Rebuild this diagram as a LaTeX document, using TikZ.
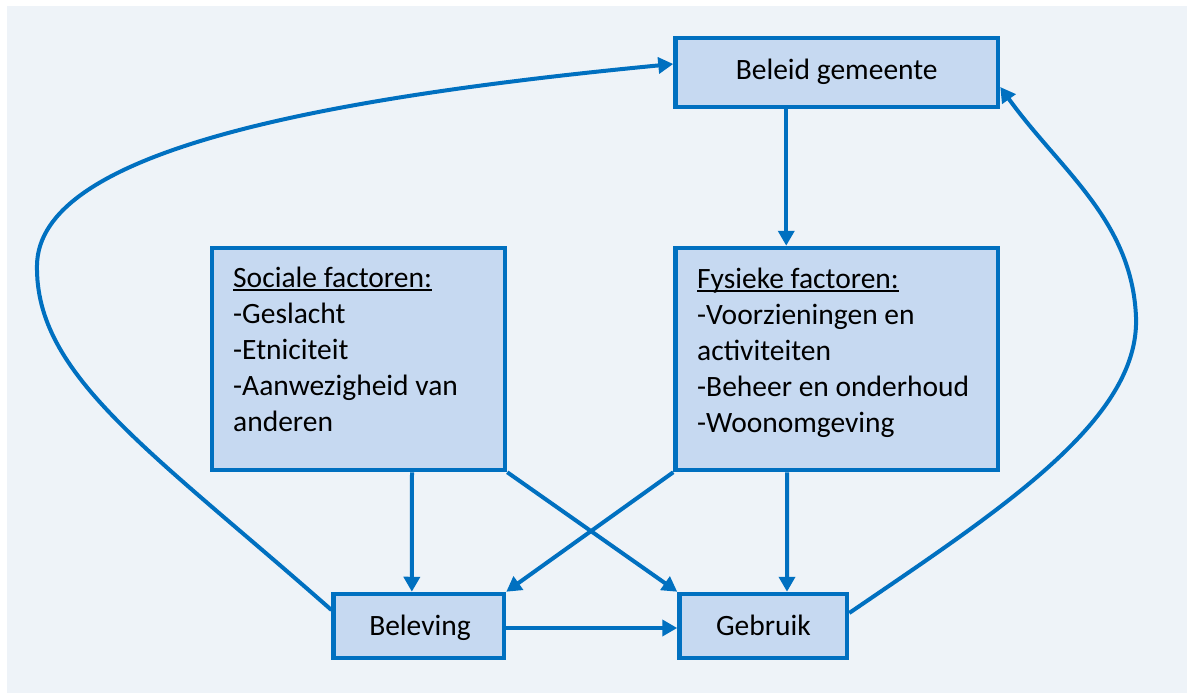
\documentclass[tikz,border=0pt]{standalone}
\usepackage{fontspec}
\setmainfont{Carlito}
\usetikzlibrary{arrows.meta}
\definecolor{lineblue}{HTML}{0070C0}
\definecolor{boxfill}{HTML}{C6D9F1}
\definecolor{bgblue}{HTML}{EEF3F8}
\newcommand\myul[1]{\setbox0\hbox{#1}\rlap{\rule[-3.6pt]{\wd0}{1.5pt}}\box0}
\tikzset{
  x=1pt, y=-1pt,
  box/.style={draw=lineblue, fill=boxfill, line width=4.5pt, rectangle, inner sep=0pt},
  lbl/.style={font=\fontsize{29.5}{36}\selectfont, inner sep=0pt, text=black},
  arr/.style={draw=lineblue, line width=4pt, -{Triangle[length=15pt,width=16pt]}},
}
\begin{document}
\begin{tikzpicture}
\useasboundingbox (0,0) rectangle (1187,693);
\fill[bgblue] (7,6) rectangle (1187,693);

% boxes (centre-line sizes)
\node[box, minimum width=322.5pt, minimum height=69pt] (beleid) at (836.75,72.5) {};
\node[box, minimum width=293pt, minimum height=222pt] (soc) at (358.5,359) {};
\node[box, minimum width=322.5pt, minimum height=222pt] (fys) at (836.75,359) {};
\node[box, minimum width=170.3pt, minimum height=64pt] (belev) at (418.85,626) {};
\node[box, minimum width=167.5pt, minimum height=64pt] (geb) at (763.25,626) {};

% texts
\node[lbl, anchor=base] (tbeleid) at (836.7,79.5) {Beleid gemeente};
\node[lbl, anchor=base] (tbelev) at (420,635) {Beleving};
\node[lbl, anchor=base] (tgeb) at (763.5,635) {Gebruik};
\node[lbl, anchor=north west, align=left] (tsoc) at (233,262)
  {\rule{0pt}{25pt}\myul{Sociale factoren:}\\-Geslacht\\-Etniciteit\\-Aanwezigheid van\\anderen};
\node[lbl, anchor=north west, align=left] (tfys) at (697,263)
  {\rule{0pt}{25pt}\myul{Fysieke factoren:}\\-Voorzieningen en\\activiteiten\\-Beheer en onderhoud\\-Woonomgeving};

% straight connectors
\draw[arr] ([xshift=-50.5pt]beleid.south) -- ([xshift=-50.5pt]fys.north);
\draw[arr] ([xshift=53.5pt]soc.south) -- ([xshift=-7pt]belev.north);
\draw[arr] (soc.south east) -- (geb.north west);
\draw[arr] (fys.south west) -- (belev.north east);
\draw[arr] ([xshift=-49.7pt]fys.south) -- ([xshift=23.75pt]geb.north);
\draw[arr] ([yshift=-2pt]belev.east) -- ([yshift=-2pt]geb.west);

% curved feedback connectors
\draw[arr] ([yshift=16pt]belev.west) .. controls (150,450) and (35,375) .. (37,265)
  .. controls (39,155) and (300,100) .. ([yshift=8.5pt]beleid.west);
\draw[arr] ([yshift=13pt]geb.east) .. controls (1000,510) and (1140,420) .. (1136,317)
  .. controls (1132,220) and (1060,170) .. ([yshift=-14.5pt]beleid.east);
\end{tikzpicture}
\end{document}
